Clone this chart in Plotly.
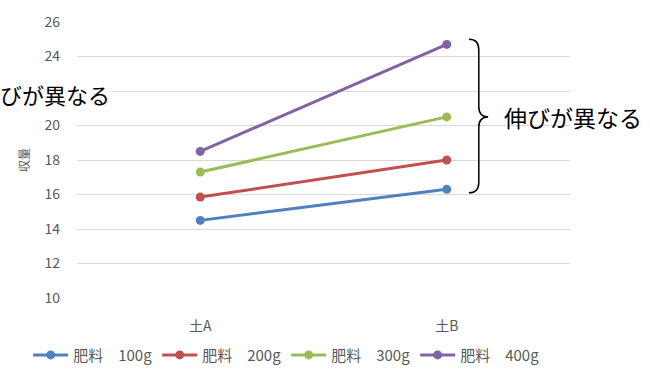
import plotly.graph_objects as go

# Yield by soil type for each fertilizer amount
soils = ["土A", "土B"]
series_names = ["肥料　100g", "肥料　200g", "肥料　300g", "肥料　400g"]
yield_100g = [14.5, 16.3]
yield_200g = [15.85, 18.0]
yield_300g = [17.3, 20.5]
yield_400g = [18.5, 24.7]
colors = ["#4F81BD", "#C0504D", "#9BBB59", "#8064A2"]

y_ticks = [10, 12, 14, 16, 18, 20, 22, 24, 26]

font_family = "Noto Sans CJK JP, Noto Sans, sans-serif"
gray = "#595959"

fig = go.Figure()
for name, vals, col in zip(series_names, [yield_100g, yield_200g, yield_300g, yield_400g], colors):
    fig.add_trace(go.Scatter(
        x=soils, y=vals, name=name, mode="lines+markers",
        line=dict(color=col, width=3),
        marker=dict(color=col, size=9),
    ))

# Curly brace grouping the 土B points
top, mid, bot = 25.0, 20.5, 16.1
xl, xr = 0.795, 0.834
brace = (
    f"M {xl} {top} "
    f"Q {xl+0.02} {top} {xl+0.02} {top-0.6} "
    f"L {xl+0.02} {mid+0.6} "
    f"Q {xl+0.02} {mid} {xr} {mid} "
    f"Q {xl+0.02} {mid} {xl+0.02} {mid-0.6} "
    f"L {xl+0.02} {bot+0.6} "
    f"Q {xl+0.02} {bot} {xl} {bot}"
)
fig.add_shape(type="path", path=brace, xref="paper", yref="y",
              line=dict(color="black", width=1.5))

fig.add_annotation(text="伸びが異なる", xref="paper", yref="y",
                   x=0.863, y=20.5, xanchor="left", yanchor="middle",
                   showarrow=False, font=dict(size=23, color="black", family=font_family))
fig.add_annotation(text="伸びが異なる", xref="paper", yref="y",
                   x=0.069, y=21.85, xanchor="right", yanchor="middle",
                   showarrow=False, bgcolor="white", borderpad=0,
                   font=dict(size=22, color="black", family=font_family))

fig.update_layout(
    width=650, height=370,
    margin=dict(l=77, r=80, t=22, b=72, autoexpand=False),
    plot_bgcolor="white", paper_bgcolor="white",
    font=dict(family=font_family, color=gray, size=13),
    showlegend=True,
    legend=dict(orientation="h", x=-0.099, xanchor="left", y=-0.207, yanchor="middle",
                font=dict(size=15, color=gray), entrywidth=79, entrywidthmode="pixels",
                itemwidth=35, tracegroupgap=0),
    xaxis=dict(type="category", range=[-0.5, 1.5], showgrid=False, zeroline=False,
               showline=False, ticks="", tickfont=dict(size=14, color=gray),
               ticklabelstandoff=18),
    yaxis=dict(range=[10, 26], tickvals=y_ticks, showgrid=True, gridcolor="#D9D9D9",
               gridwidth=1, zeroline=False, showline=False, ticks="",
               tickfont=dict(size=14, color=gray), ticklabelstandoff=16,
               title=dict(text="収量", font=dict(size=12, color=gray), standoff=12)),
)

fig.write_html("out.html")
